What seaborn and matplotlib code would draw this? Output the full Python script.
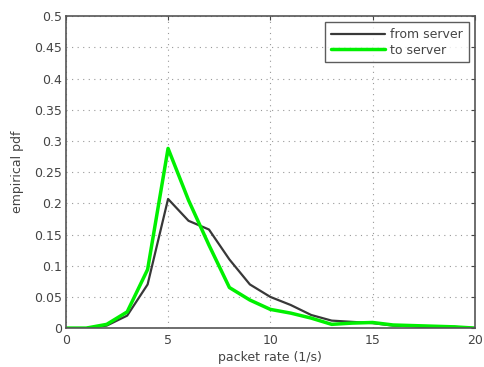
import numpy as np
import pandas as pd
import matplotlib
matplotlib.use("Agg")
import matplotlib.pyplot as plt
from matplotlib.lines import Line2D
import seaborn as sns

# Packet-rate bins (1/s) and empirical pdf for both directions
rate = [0, 1, 2, 3, 4, 5, 6, 7, 8, 9, 10, 11, 12, 13, 14, 15, 16, 17, 18, 19, 20]
from_server = [0.0, 0.0, 0.004, 0.02, 0.07, 0.207, 0.172, 0.158, 0.11, 0.07, 0.05,
               0.037, 0.021, 0.012, 0.01, 0.008, 0.004, 0.003, 0.0, 0.002, 0.0]
to_server = [0.0, 0.0, 0.006, 0.026, 0.094, 0.288, 0.205, 0.133, 0.065, 0.045, 0.03,
             0.024, 0.016, 0.006, 0.008, 0.009, 0.005, 0.004, 0.003, 0.002, 0.0]
series_names = ["from server", "to server"]
y_tick_labels = ["0", "0.05", "0.1", "0.15", "0.2", "0.25", "0.3", "0.35",
                 "0.4", "0.45", "0.5"]

df = pd.concat([
    pd.DataFrame({"rate": rate, "pdf": from_server, "dir": series_names[0]}),
    pd.DataFrame({"rate": rate, "pdf": to_server, "dir": series_names[1]}),
])

sns.set_style("white")
plt.rcParams["font.family"] = ["DejaVu Sans"]
FS = 9

fig = plt.figure(figsize=(4.84, 3.67), dpi=100)
ax = fig.add_axes([0.136, 0.106, 0.845, 0.850])

palette = {series_names[0]: "#383838", series_names[1]: "#00f000"}
widths = {series_names[0]: 1.6, series_names[1]: 2.5}
sns.lineplot(data=df, x="rate", y="pdf", hue="dir", palette=palette, ax=ax,
             size="dir", sizes=widths, legend=False)

ax.set_xlim(0, 20)
ax.set_ylim(0, 0.5)
ax.set_xticks([0, 5, 10, 15, 20])
ax.set_yticks(np.arange(0, 0.51, 0.05))
ax.set_yticklabels(y_tick_labels)
ax.grid(True, linestyle=(0, (1, 4)), color="#999999", linewidth=0.8)
ax.tick_params(direction="in", top=True, right=True, length=3, labelsize=FS,
               colors="#444444", labelcolor="#444444", pad=3)
ax.tick_params(axis="x", pad=4)
for s in ax.spines.values():
    s.set_color("#555555")
    s.set_linewidth(1.2)

ax.set_xlabel("packet rate (1/s)", fontsize=FS, color="#444444", labelpad=3)
ax.set_ylabel("empirical pdf", fontsize=FS, color="#444444", labelpad=7)

handles = [Line2D([], [], color=palette[n], lw=widths[n]) for n in series_names]
leg = ax.legend(handles, series_names, loc="upper right",
                fontsize=FS, frameon=True, fancybox=False, borderpad=0.45,
                handlelength=4.3, handletextpad=0.45, labelspacing=0.2,
                borderaxespad=0.5)
leg.get_frame().set_edgecolor("#333333")
leg.get_frame().set_linewidth(1.0)
for t in leg.get_texts():
    t.set_color("#444444")

fig.savefig("out.png", dpi=100)
